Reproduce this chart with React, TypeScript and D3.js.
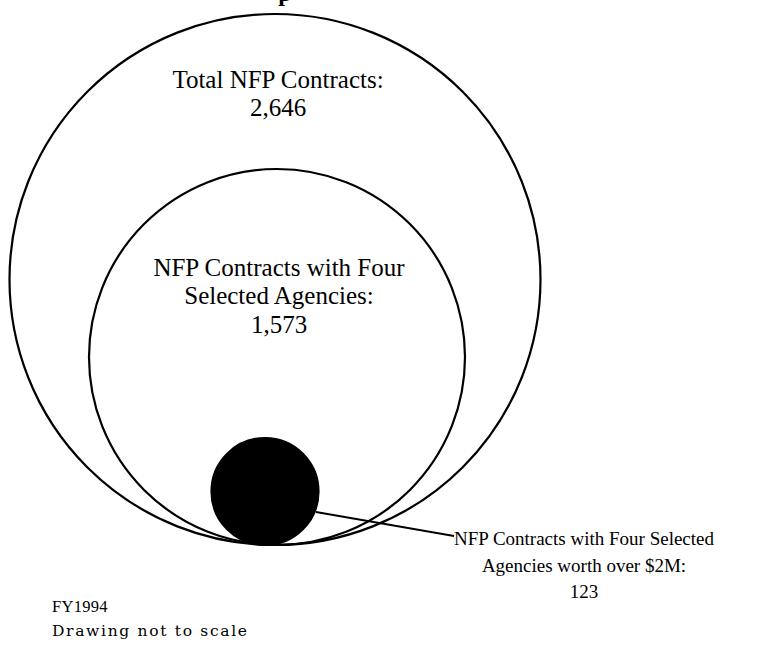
import React from 'react';
import { scaleLinear } from 'd3';

const width = 771;
const height = 654;

// nested sets, outermost first (drawing not to scale)
const categories = [
  'Total NFP Contracts',
  'NFP Contracts with Four Selected Agencies',
  'NFP Contracts with Four Selected Agencies worth over $2M',
];
const values = [2646, 1573, 123];
const labelLines = [
  ['Total NFP Contracts:', '2,646'],
  ['NFP Contracts with Four', 'Selected Agencies:', '1,573'],
  ['NFP Contracts with Four Selected', 'Agencies worth over $2M:', '123'],
];
const notes = ['FY1994', 'Drawing not to scale'];

const fmt = (v: number) => v.toLocaleString('en-US');

const App = () => {
  // rank -> radius, not proportional to the counts
  const rScale = scaleLinear().domain([0, 1, 2]).range([265.5, 188, 53.5]);
  const cxScale = scaleLinear().domain([0, 1, 2]).range([275, 277, 265]);
  const bottom = 545;

  const circles = values.map((v, i) => ({
    name: categories[i],
    value: v,
    r: rScale(i),
    cx: cxScale(i),
    cy: bottom - rScale(i),
  }));

  const serif = '"Liberation Serif", "Times New Roman", serif';

  return (
    <svg
      width={width}
      height={height}
      style={{ position: 'absolute', left: 0, top: 0, background: '#fff' }}
    >
      {/* bottom of the title, cut off by the page edge */}
      <text
        x={285}
        y={1}
        textAnchor="middle"
        fontFamily={serif}
        fontWeight="bold"
        fontSize={24}
        fill="#000"
      >
        p
      </text>

      {circles.map((c, i) => (
        <circle
          key={c.name}
          cx={c.cx}
          cy={c.cy}
          r={c.r}
          fill={i === 2 ? '#000' : 'none'}
          stroke="#000"
          strokeWidth={2.2}
        />
      ))}

      {/* leader line for the smallest set */}
      <line x1={316} y1={512} x2={454} y2={536} stroke="#000" strokeWidth={1.8} />

      <text textAnchor="middle" fontFamily={serif} fontSize={25} fill="#000">
        <tspan x={278} y={88}>{labelLines[0][0]}</tspan>
        <tspan x={278} y={116}>{fmt(values[0])}</tspan>
      </text>

      <text textAnchor="middle" fontFamily={serif} fontSize={25} fill="#000">
        <tspan x={279} y={276}>{labelLines[1][0]}</tspan>
        <tspan x={279} y={304}>{labelLines[1][1]}</tspan>
        <tspan x={279} y={333}>{fmt(values[1])}</tspan>
      </text>

      <text textAnchor="middle" fontFamily={serif} fontSize={19} fill="#000">
        <tspan x={584} y={545}>{labelLines[2][0]}</tspan>
        <tspan x={584} y={572}>{labelLines[2][1]}</tspan>
        <tspan x={584} y={598}>{fmt(values[2])}</tspan>
      </text>

      <text fontFamily={serif} fontSize={16.5} fill="#000" letterSpacing={0.3}>
        <tspan x={52} y={612}>{notes[0]}</tspan>
      </text>
      <text
        fontFamily='"DejaVu Serif", serif'
        fontSize={15.5}
        fill="#000"
        textLength={195}
        lengthAdjust="spacing"
        x={52}
        y={636}
      >
        {notes[1]}
      </text>
    </svg>
  );
};

export default App;
